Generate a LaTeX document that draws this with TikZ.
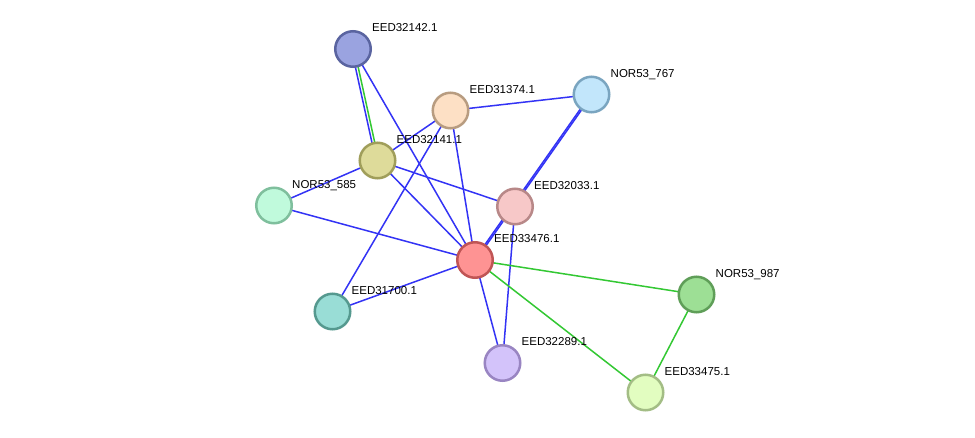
\documentclass[tikz,border=0pt]{standalone}
\usepackage{fontspec}
\setmainfont{Liberation Sans}
\begin{document}
\begin{tikzpicture}[x=1pt,y=-1pt,
  prot/.style={circle, minimum size=35.5pt, inner sep=0pt, line width=2.5pt},
  lbl/.style={anchor=base west, inner sep=0pt, font=\fontsize{11.5}{12}\selectfont, text=black},
  bl/.style={draw={rgb,255:red,51;green,51;blue,245}, line width=1.5pt},
  gr/.style={draw={rgb,255:red,51;green,200;blue,51}, line width=1.5pt}]
\useasboundingbox (0,0) rectangle (975,438);
\fill[white] (0,0) rectangle (975,438);

% protein colours (fill / border)
\definecolor{fA}{HTML}{9AA3E0}\definecolor{bA}{HTML}{5A64A0}
\definecolor{fB}{HTML}{FDE0C5}\definecolor{bB}{HTML}{B89C80}
\definecolor{fC}{HTML}{C2E6FB}\definecolor{bC}{HTML}{7AA5C0}
\definecolor{fD}{HTML}{DEDB9A}\definecolor{bD}{HTML}{A09E5A}
\definecolor{fE}{HTML}{C0FADC}\definecolor{bE}{HTML}{7FBF9D}
\definecolor{fF}{HTML}{F7C8C8}\definecolor{bF}{HTML}{B88888}
\definecolor{fG}{HTML}{FE9393}\definecolor{bG}{HTML}{C05555}
\definecolor{fH}{HTML}{99DDD6}\definecolor{bH}{HTML}{55998F}
\definecolor{fI}{HTML}{9DDF95}\definecolor{bI}{HTML}{5F9E58}
\definecolor{fJ}{HTML}{D3C3FA}\definecolor{bJ}{HTML}{9985C2}
\definecolor{fK}{HTML}{E2FDC0}\definecolor{bK}{HTML}{A3BD85}

\coordinate (p42) at (353,49);
\coordinate (p74) at (450.5,110.5);
\coordinate (p767) at (591.5,94.5);
\coordinate (p41) at (377.5,160.5);
\coordinate (p585) at (274,205.5);
\coordinate (p33) at (515,206.5);
\coordinate (p76) at (475,260);
\coordinate (p00) at (332.5,311.5);
\coordinate (p987) at (696.5,294.5);
\coordinate (p89) at (502.5,363);
\coordinate (p75) at (645.5,392.5);

% interactions
\draw[bl] ([xshift=-1.6pt]p42) -- ([xshift=-1.6pt]p41);
\draw[gr] ([xshift=1.2pt]p42) -- ([xshift=1.2pt]p41);
\draw[bl] (p42) -- (p76);
\draw[bl] (p74) -- (p767);
\draw[bl] (p74) -- (p41);
\draw[bl] (p74) -- (p76);
\draw[bl] (p74) -- (p00);
\draw[bl] ([xshift=-0.9pt]p767) -- ([xshift=-0.9pt]p76);
\draw[bl] ([xshift=0.9pt]p767) -- ([xshift=0.9pt]p76);
\draw[bl] (p41) -- (p585);
\draw[bl] (p41) -- (p33);
\draw[bl] (p41) -- (p76);
\draw[bl] (p585) -- (p76);
\draw[bl] (p33) -- (p89);
\draw[bl] (p76) -- (p00);
\draw[bl] (p76) -- (p89);
\draw[gr] (p76) -- (p987);
\draw[gr] (p76) -- (p75);
\draw[gr] (p987) -- (p75);

\node[prot, fill=fA, draw=bA] (n42) at (p42) {};
\node[prot, fill=fB, draw=bB] (n74) at (p74) {};
\node[prot, fill=fC, draw=bC] (n767) at (p767) {};
\node[prot, fill=fD, draw=bD] (n41) at (p41) {};
\node[prot, fill=fE, draw=bE] (n585) at (p585) {};
\node[prot, fill=fF, draw=bF] (n33) at (p33) {};
\node[prot, fill=fG, draw=bG] (n76) at (p76) {};
\node[prot, fill=fH, draw=bH] (n00) at (p00) {};
\node[prot, fill=fI, draw=bI] (n987) at (p987) {};
\node[prot, fill=fJ, draw=bJ] (n89) at (p89) {};
\node[prot, fill=fK, draw=bK] (n75) at (p75) {};

% labels
\node[lbl] (l42) at ([xshift=19pt,yshift=17pt]p42) {EED32142.1};
\node[lbl] (l74) at ([xshift=19pt,yshift=17pt]p74) {EED31374.1};
\node[lbl] (l767) at ([xshift=19pt,yshift=17pt]p767) {NOR53\_767};
\node[lbl] (l41) at ([xshift=19pt,yshift=17pt]p41) {EED32141.1};
\node[lbl] (l585) at ([xshift=18pt,yshift=17pt]p585) {NOR53\_585};
\node[lbl] (l33) at ([xshift=19pt,yshift=17pt]p33) {EED32033.1};
\node[lbl] (l76) at ([xshift=19pt,yshift=17pt]p76) {EED33476.1};
\node[lbl] (l00) at ([xshift=19pt,yshift=17pt]p00) {EED31700.1};
\node[lbl] (l987) at ([xshift=19pt,yshift=17pt]p987) {NOR53\_987};
\node[lbl] (l89) at ([xshift=19pt,yshift=17pt]p89) {EED32289.1};
\node[lbl] (l75) at ([xshift=19pt,yshift=17pt]p75) {EED33475.1};
\end{tikzpicture}
\end{document}
